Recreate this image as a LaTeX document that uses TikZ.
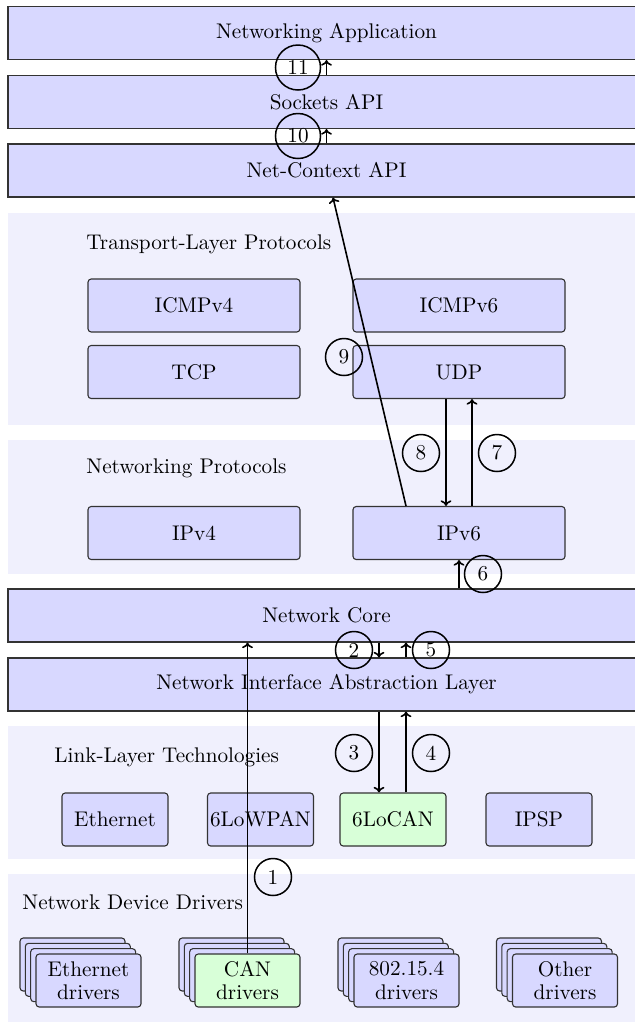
\documentclass[tikz,border=0pt]{standalone}
\usetikzlibrary{arrows.meta}
\definecolor{boxfill}{HTML}{D8D8FF}
\definecolor{panelfill}{HTML}{F0F0FD}
\definecolor{greenfill}{HTML}{D8FFD8}
\definecolor{edgecol}{HTML}{333333}
\begin{document}
\begin{tikzpicture}[x=0.5pt,y=-0.5pt,
  every node/.style={font=\fontsize{10.6pt}{12.7pt}\selectfont},
  panel/.style={fill=panelfill},
  layerbox/.style={draw=edgecol, line width=0.55pt, fill=boxfill, minimum width=318.5pt, minimum height=26.5pt, inner sep=0pt},
  protobox/.style={draw=edgecol, line width=0.55pt, fill=boxfill, rounded corners=1.6pt, minimum width=106pt, minimum height=26.5pt, inner sep=0pt},
  linkbox/.style={protobox, minimum width=53pt},
  card/.style={draw=edgecol, line width=0.55pt, fill=boxfill, rounded corners=1.6pt, minimum width=52.5pt, minimum height=26.5pt, inner sep=0pt, align=center, font=\fontsize{10.6pt}{11.6pt}\selectfont},
  greenbox/.style={fill=greenfill},
  paneltitle/.style={anchor=west, inner sep=0pt},
  arr/.style={-{To[length=2.8pt,width=5.4pt]}, line width=0.8pt},
  numcirc/.style={draw, circle, line width=0.75pt, minimum size=18.5pt, inner sep=0pt},
  numcircwide/.style={numcirc, minimum size=22.5pt}
]
\useasboundingbox (0,0) rectangle (635,1030);
\clip (0,0) rectangle (635,1030);

% background panels
\fill[panel] (8,213) rectangle (645,425);
\fill[panel] (8,440) rectangle (645,574);
\fill[panel] (8,726) rectangle (645,859);
\fill[panel] (8,874) rectangle (645,1022);

% layer boxes
\node[layerbox] (netapp)  at (326.5,33)    {Networking Application};
\node[layerbox] (sockets) at (326.5,102)   {Sockets API};
\node[layerbox] (netctx)  at (326.5,170.5) {Net-Context API};
\node[layerbox] (core)    at (326.5,615.5) {Network Core};
\node[layerbox] (nial)    at (326.5,684.5) {Network Interface Abstraction Layer};

% panel titles
\node[paneltitle] (ttrans) at (86,244) {Transport-Layer Protocols};
\node[paneltitle] (tnet)   at (86,468) {Networking Protocols};
\node[paneltitle] (tlink)  at (54,757) {Link-Layer Technologies};
\node[paneltitle] (tdrv)   at (22,902) {Network Device Drivers};

% protocol boxes
\node[protobox] (icmp4) at (194,305.5) {ICMPv4};
\node[protobox] (icmp6) at (459,305.5) {ICMPv6};
\node[protobox] (tcp)   at (194,372)   {TCP};
\node[protobox] (udp)   at (459,372)   {UDP};
\node[protobox] (ipv4)  at (194,533)   {IPv4};
\node[protobox] (ipv6)  at (459,533)   {IPv6};

% link-layer boxes
\node[linkbox] (eth)    at (115,819.5)   {Ethernet};
\node[linkbox] (lowpan) at (260.5,819.5) {6LoWPAN};
\node[linkbox, greenbox] (locan) at (393,819.5) {6LoCAN};
\node[linkbox] (ipsp)   at (539,819.5)   {IPSP};

% driver stacks
\foreach \cx/\nm in {88.5/a,247.5/b,406.5/c,565/d}{
  \foreach \k in {3,2,1}{
    \node[card] (\nm back\k) at (\cx-5.33*\k,980.5-5.33*\k) {\phantom{x}};
  }
}
\node[card] (ethdrv)   at (88.5,980.5)  {Ethernet\\drivers};
\node[card, greenbox] (can) at (247.5,980.5) {CAN\\drivers};
\node[card] (wpandrv)  at (406.5,980.5) {802.15.4\\drivers};
\node[card] (otherdrv) at (565,980.5)   {Other\\drivers};

% helper coordinates
\coordinate (dn) at ([xshift=-7pt]locan.north);
\coordinate (up) at ([xshift=6.5pt]locan.north);

% arrows
\draw[arr] (can.north) -- (can.north |- core.south);
\draw[arr] (dn |- core.south) -- (dn |- nial.north);
\draw[arr] (dn |- nial.south) -- (dn);
\draw[arr] (up) -- (up |- nial.south);
\draw[arr] (up |- nial.north) -- (up |- core.south);
\draw[arr] (ipv6.south |- core.north) -- (ipv6.south);
\draw[arr] ([xshift=6.5pt]ipv6.north) -- ([xshift=6.5pt]udp.south);
\draw[arr] ([xshift=-6.5pt]udp.south) -- ([xshift=-6.5pt]ipv6.north);
\draw[arr] ([xshift=-26.5pt]ipv6.north) -- ([xshift=3.25pt]netctx.south);
\draw[arr] (netctx.north) -- (sockets.south);
\draw[arr] (sockets.north) -- (netapp.south);

% step numbers
\node[numcircwide] (n11) at (298,67.5) {11};
\node[numcircwide] (n10) at (298,136) {10};
\node[numcirc] (n9) at (344,357) {9};
\node[numcirc] (n8) at (421,453) {8};
\node[numcirc] (n7) at (497,453) {7};
\node[numcirc] (n6) at (483,574) {6};
\node[numcirc] (n2) at (354,650) {2};
\node[numcirc] (n5) at (431,650) {5};
\node[numcirc] (n3) at (354,753) {3};
\node[numcirc] (n4) at (431,753) {4};
\node[numcirc] (n1) at (273,877) {1};
\end{tikzpicture}
\end{document}
